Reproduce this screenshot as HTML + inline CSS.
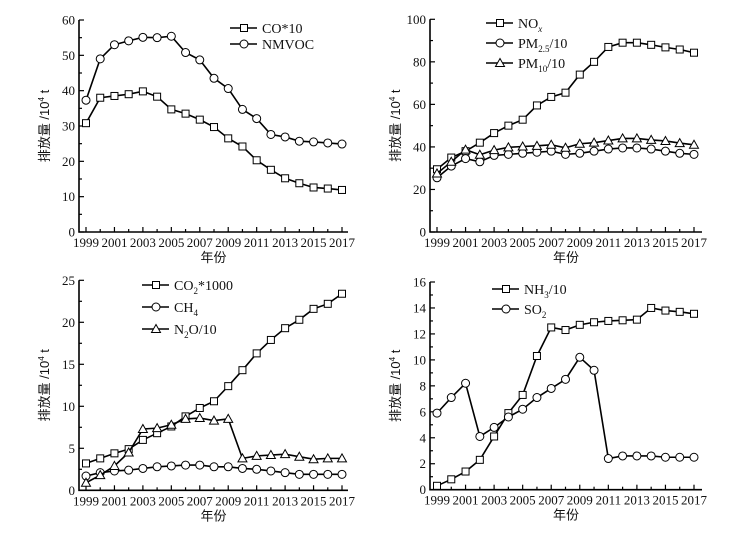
<!DOCTYPE html>
<html><head><meta charset="utf-8"><style>
body{margin:0;background:#fff;}
svg text{font-family:"Liberation Serif","Noto Serif CJK SC",serif;fill:#111;}
.cjk{font-family:"Liberation Sans","Noto Sans CJK SC",sans-serif !important;}
</style></head><body>
<svg id="s" width="751" height="534" viewBox="0 0 751 534"></svg>
<script>
const years=[1999,2000,2001,2002,2003,2004,2005,2006,2007,2008,2009,2010,2011,2012,2013,2014,2015,2016,2017];
const coX10=[30.8,38,38.5,39,39.8,38.3,34.7,33.5,31.8,29.7,26.5,24.2,20.3,17.6,15.2,13.8,12.6,12.3,11.9];
const nmvoc=[37.3,49,53,54.1,55.1,55,55.4,50.8,48.7,43.5,40.6,34.7,32.1,27.6,26.9,25.7,25.5,25.2,24.9];
const nox=[29.5,35,38,42,46.5,50,52.8,59.5,63.5,65.5,74,80,87,89,89,88,86.8,85.8,84.3];
const pm25=[25.5,31,34.5,33,36,36.5,37,37.5,38,36.5,37,38,39,39.5,39.5,39,38,37,36.5];
const pm10=[27.5,33,38.7,36.3,38.5,39.8,40.2,40.5,41,39.6,41.5,42,43,44,44,43.3,42.8,41.8,41];
const co2=[3.2,3.8,4.4,4.9,6,6.8,7.6,8.8,9.8,10.6,12.4,14.3,16.3,17.9,19.3,20.3,21.6,22.2,23.4];
const ch4=[1.7,2.1,2.3,2.4,2.6,2.8,2.9,3,3,2.8,2.8,2.6,2.5,2.3,2.1,1.9,1.9,1.9,1.9];
const n2o=[0.9,1.8,2.9,4.5,7.3,7.4,7.8,8.5,8.6,8.3,8.5,3.8,4.1,4.2,4.3,4,3.7,3.8,3.8];
const nh3=[0.3,0.8,1.4,2.3,4.1,5.9,7.3,10.3,12.5,12.3,12.7,12.9,13,13.05,13.1,14,13.8,13.7,13.55];
const so2=[5.9,7.1,8.2,4.1,4.8,5.6,6.2,7.1,7.8,8.5,10.2,9.2,2.4,2.6,2.6,2.6,2.5,2.5,2.5];
const xTickLabels=["1999","2001","2003","2005","2007","2009","2011","2013","2015","2017"];
const yTicks1=[0,10,20,30,40,50,60];
const yTicks2=[0,20,40,60,80,100];
const yTicks3=[0,5,10,15,20,25];
const yTicks4=[0,2,4,6,8,10,12,14,16];

const S=document.getElementById('s');const NS='http://www.w3.org/2000/svg';
function mk(t,a,p){const e=document.createElementNS(NS,t);for(const k in a)e.setAttribute(k,a[k]);(p||S).appendChild(e);return e;}

function panel(cfg){
  const g=mk('g',{});
  
  
  const {ax,x0,x1,yTop,yBot,xEnd,ymax,ticks}=cfg;
  const X=y=>x0+(y-1999)*(x1-x0)/18;
  const Y=v=>yBot-v*(yBot-yTop)/ymax;
  const axes=mk('path',{d:`M${ax} ${yTop} V${yBot} H${xEnd}`,fill:'none',stroke:'#000','stroke-width':1.6},g);
  
  
  for(let i=0;i<ticks.length;i++){
    const v=ticks[i];
    mk('line',{x1:ax,x2:ax+5,y1:Y(v),y2:Y(v),stroke:'#000','stroke-width':1.2},g);
    if(i<ticks.length-1){const m=(v+ticks[i+1])/2;mk('line',{x1:ax,x2:ax+3,y1:Y(m),y2:Y(m),stroke:'#000','stroke-width':1.2},g);}
    const t=mk('text',{x:ax-4,y:Y(v)+4.5,'text-anchor':'end','font-size':13},g);t.textContent=v;
    
    
  }
  years.forEach((yr,i)=>{mk('line',{x1:X(yr),x2:X(yr),y1:yBot,y2:yBot-(i%2==0?5:3),stroke:'#000','stroke-width':1.2},g);});
  xTickLabels.forEach(l=>{const t=mk('text',{x:X(+l),y:yBot+15,'text-anchor':'middle','font-size':13},g);t.textContent=l;
    
    });
  const xt=mk('text',{x:(ax+xEnd)/2,y:yBot+30,'text-anchor':'middle','font-size':13,class:'cjk'},g);xt.textContent='年份';
  
  
  const cy=(yTop+yBot)/2;
  const yt=mk('text',{x:ax-30,y:cy,transform:`rotate(-90 ${ax-30} ${cy})`,'text-anchor':'middle','font-size':13,class:'cjk'},g);
  yt.innerHTML='排放量 /10<tspan dy="-5" font-size="8">4</tspan><tspan dy="5"> t</tspan>';
  
  
  function marker(shape,x,y,pg){
    if(shape==='sq')return mk('rect',{x:x-3.5,y:y-3.5,width:7,height:7,fill:'#fff',stroke:'#000','stroke-width':1},pg);
    if(shape==='ci')return mk('circle',{cx:x,cy:y,r:4,fill:'#fff',stroke:'#000','stroke-width':1},pg);
    return mk('path',{d:`M${x} ${y-4.5}L${x+4.5} ${y+3.5}L${x-4.5} ${y+3.5}Z`,fill:'#fff',stroke:'#000','stroke-width':1},pg);
  }
  cfg.series.forEach((s,si)=>{
    const sg=mk('g',{},g);
    
    
    mk('polyline',{points:s.data.map((v,i)=>X(years[i])+','+Y(v)).join(' '),fill:'none',stroke:'#000','stroke-width':1.6},sg);
    s.data.forEach((v,i)=>marker(s.shape,X(years[i]),Y(v),sg));
    const lg=mk('g',{},g);
    
    
    const ly=cfg.leg.y[si];
    mk('line',{x1:cfg.leg.x,x2:cfg.leg.x+27,y1:ly,y2:ly,stroke:'#000','stroke-width':1.6},lg);
    marker(s.shape,cfg.leg.x+14,ly,lg);
    const t=mk('text',{x:cfg.leg.x+32,y:ly+5,'font-size':14},lg);t.innerHTML=s.label;
  });
}
const sub=t=>`<tspan dy="4" font-size="9">${t}</tspan><tspan dy="-4">`;
panel({name:'chart-co-nmvoc',ax:79,x0:86,x1:342,yTop:20,yBot:232,xEnd:348,ymax:60,ticks:yTicks1,
  leg:{x:230,y:[28,44]},series:[{id:'co',data:coX10,shape:'sq',label:'CO*10'},{id:'nmvoc',data:nmvoc,shape:'ci',label:'NMVOC'}]});
panel({name:'chart-nox-pm',ax:430,x0:437,x1:694,yTop:19.3,yBot:232,xEnd:702,ymax:100,ticks:yTicks2,
  leg:{x:486,y:[23,43,63]},series:[{id:'nox',data:nox,shape:'sq',label:'NO'+sub('<tspan font-style="italic">x</tspan>')+'</tspan>'},
  {id:'pm25',data:pm25,shape:'ci',label:'PM'+sub('2.5')+'/10</tspan>'},{id:'pm10',data:pm10,shape:'tr',label:'PM'+sub('10')+'/10</tspan>'}]});
panel({name:'chart-co2-ch4-n2o',ax:79,x0:86,x1:342,yTop:280.3,yBot:490.3,xEnd:348,ymax:25,ticks:yTicks3,
  leg:{x:142,y:[285,307,329]},series:[{id:'co2',data:co2,shape:'sq',label:'CO'+sub('2')+'*1000</tspan>'},
  {id:'ch4',data:ch4,shape:'ci',label:'CH'+sub('4')+'</tspan>'},{id:'n2o',data:n2o,shape:'tr',label:'N'+sub('2')+'O/10</tspan>'}]});
panel({name:'chart-nh3-so2',ax:430,x0:437,x1:694,yTop:282,yBot:489.7,xEnd:702,ymax:16,ticks:yTicks4,
  leg:{x:492,y:[289,309]},series:[{id:'nh3',data:nh3,shape:'sq',label:'NH'+sub('3')+'/10</tspan>'},{id:'so2',data:so2,shape:'ci',label:'SO'+sub('2')+'</tspan>'}]});
</script>
</body></html>
